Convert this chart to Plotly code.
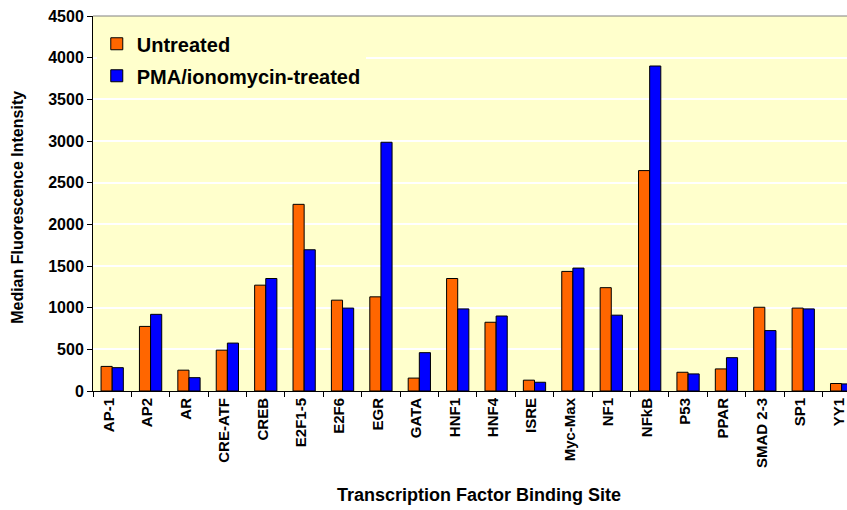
import plotly.graph_objects as go

categories = ["AP-1", "AP2", "AR", "CRE-ATF", "CREB", "E2F1-5", "E2F6", "EGR", "GATA",
              "HNF1", "HNF4", "ISRE", "Myc-Max", "NF1", "NFkB", "P53", "PPAR",
              "SMAD 2-3", "SP1", "YY1"]
untreated = [295, 775, 250, 490, 1270, 2240, 1090, 1130, 155, 1350, 825, 130, 1435,
             1240, 2645, 225, 265, 1005, 995, 90]
treated = [280, 920, 160, 575, 1350, 1695, 995, 2985, 460, 985, 900, 105, 1475,
           910, 3900, 205, 400, 725, 985, 85]
y_ticks = [0, 500, 1000, 1500, 2000, 2500, 3000, 3500, 4000, 4500]

FONT = "Arial, 'Liberation Sans', sans-serif"

fig = go.Figure()
fig.add_trace(go.Bar(x=categories, y=untreated, name="Untreated", legendgroup="a",
                     marker=dict(color="#FF6600", line=dict(color="#000000", width=1))))
fig.add_trace(go.Bar(x=categories, y=treated, name="PMA/ionomycin-treated", legendgroup="b",
                     marker=dict(color="#0000FF", line=dict(color="#000000", width=1))))

fig.update_layout(
    width=847, height=510,
    margin=dict(l=93, r=0, t=16, b=119),
    paper_bgcolor="white",
    plot_bgcolor="#FFFFCC",
    barmode="group", bargap=0.42, bargroupgap=0,
    font=dict(family=FONT, color="black", size=15, weight="bold"),
    showlegend=True,
    legend=dict(x=0.005, y=0.978, xanchor="left", yanchor="top",
                bgcolor="#FFFFCC", borderwidth=0,
                font=dict(size=20, family=FONT, weight="bold"),
                tracegroupgap=3, traceorder="grouped"),
    xaxis=dict(range=[-0.5, 19.14], tickangle=-90, showline=True, linecolor="black",
               linewidth=1, ticks="outside", ticklen=5, tickcolor="black",
               tickson="boundaries", showgrid=False, automargin=False,
               ticklabeloverflow="allow", ticklabelshift=-3,
               tickfont=dict(size=15, family=FONT, weight="bold")),
    yaxis=dict(range=[0, 4500], tickvals=y_ticks, showline=True, linecolor="black",
               linewidth=1, ticks="outside", ticklen=5, tickcolor="black",
               showgrid=True, gridcolor="white", gridwidth=2, zeroline=False,
               automargin=False, ticklabeloverflow="allow",
               tickfont=dict(size=16, family=FONT, weight="bold")),
    shapes=[dict(type="line", xref="paper", yref="paper", x0=0, x1=1, y0=1, y1=1,
                 line=dict(color="#808080", width=1))],
    annotations=[
        dict(text="Transcription Factor Binding Site", xref="paper", yref="paper",
             x=0.512, y=-0.277, xanchor="center", yanchor="middle", showarrow=False,
             font=dict(size=18, family=FONT, weight="bold")),
        dict(text="Median Fluorescence Intensity", xref="paper", yref="paper",
             x=-0.1, y=0.49, xanchor="center", yanchor="middle", showarrow=False,
             textangle=-90, font=dict(size=16, family=FONT, weight="bold")),
    ],
)

fig.write_html(
    "out.html",
    config={"displayModeBar": False},
    post_script="document.body.style.margin='0px';document.body.style.overflow='hidden';",
)
